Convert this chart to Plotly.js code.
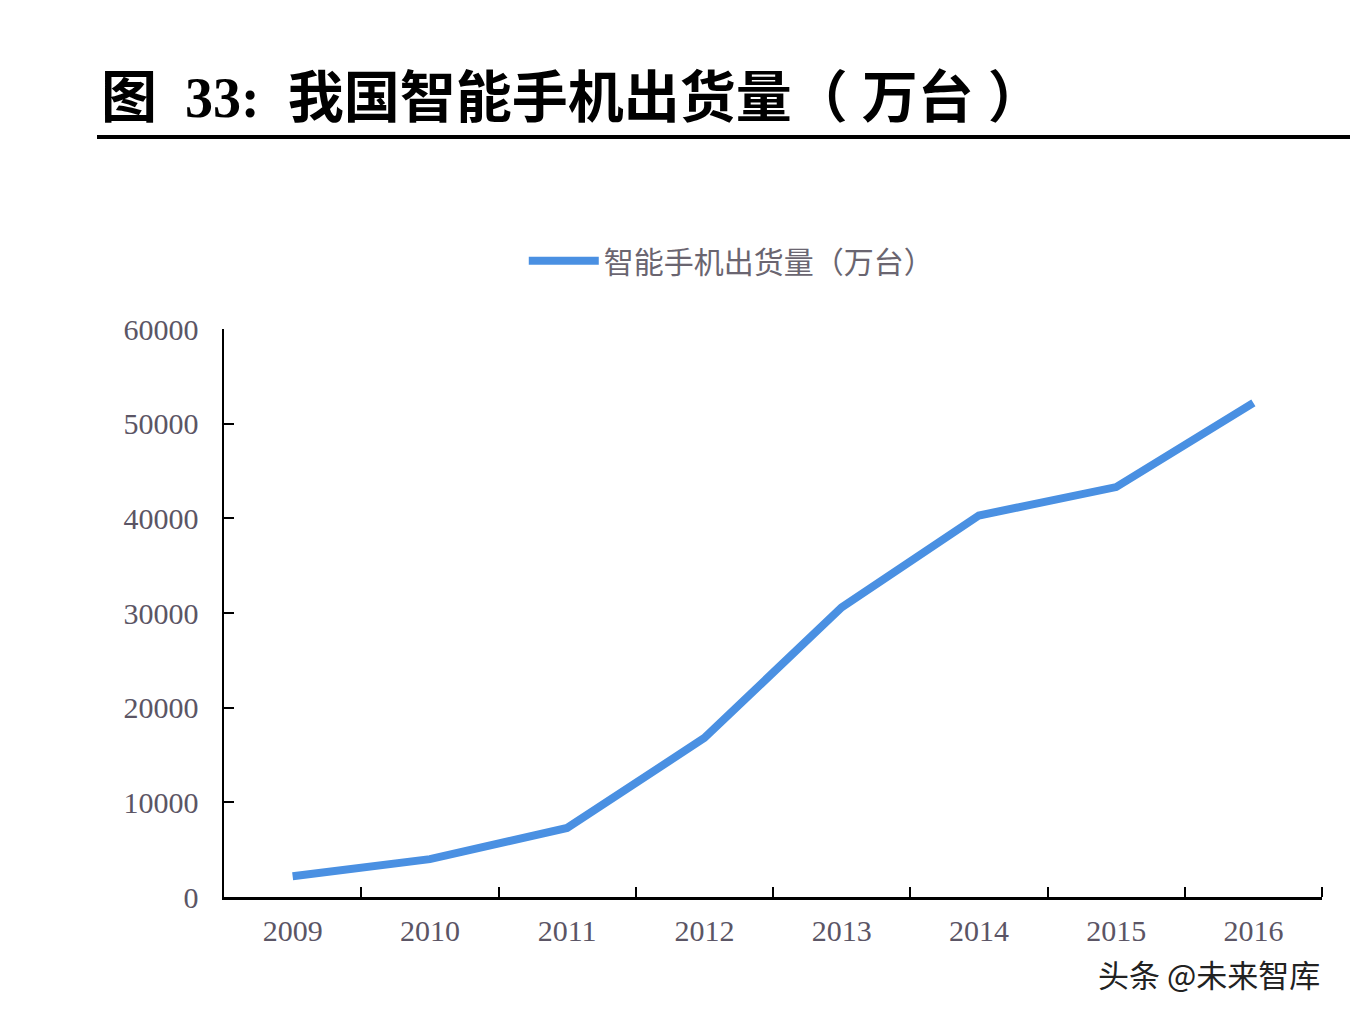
<!DOCTYPE html>
<html>
<head>
<meta charset="utf-8">
<script src="https://cdn.plot.ly/plotly-3.0.1.min.js"></script>
<style>
  body { margin: 0; background: #fff; }
  #chart { width: 1350px; height: 1012px; }
</style>
</head>
<body>
<div id="chart"></div>
<script>
// Data (万台)
const years = ['2009', '2010', '2011', '2012', '2013', '2014', '2015', '2016'];
const shipments = [2200, 4000, 7300, 16800, 30600, 40300, 43300, 52200];
const yTicks = [0, 10000, 20000, 30000, 40000, 50000, 60000];
const seriesName = '智能手机出货量（万台）';

const labelFont = { family: 'Liberation Serif, serif', size: 30, color: '#5b5565' };

Plotly.newPlot('chart', [
  {
    x: years,
    y: shipments,
    name: seriesName,
    type: 'scatter',
    mode: 'lines',
    line: { color: '#4a90e2', width: 8 }
  }
], {
  width: 1350,
  height: 1012,
  margin: { l: 224, r: 28, t: 329, b: 115 },
  paper_bgcolor: '#ffffff',
  plot_bgcolor: '#ffffff',
  title: {
    text: '<b>图&nbsp;&nbsp;33:&nbsp;&nbsp;我国智能手机出货量（ 万台 ）</b>',
    font: { family: 'Liberation Serif, Noto Sans CJK SC, serif', size: 56, color: '#000' },
    xref: 'container', yref: 'container',
    x: 101 / 1350, xanchor: 'left',
    y: 1 - 97 / 1012, yanchor: 'middle'
  },
  showlegend: true,
  legend: {
    orientation: 'h',
    x: 0.462, xanchor: 'center',
    y: 1.12, yanchor: 'middle',
    itemwidth: 70,
    font: { family: 'Noto Sans CJK SC, sans-serif', size: 30, color: '#6a6570' }
  },
  xaxis: {
    type: 'category',
    range: [-0.5, 7.5],
    showline: true,
    linecolor: '#000',
    linewidth: 2.5,
    ticks: 'inside',
    tickson: 'boundaries',
    ticklen: 10,
    tickwidth: 2,
    tickcolor: '#000',
    showgrid: false,
    zeroline: false,
    tickfont: labelFont,
    ticklabelstandoff: 5,
    fixedrange: true
  },
  yaxis: {
    range: [0, 60000],
    tickvals: yTicks,
    ticktext: yTicks.map(String),
    showline: true,
    linecolor: '#000',
    linewidth: 2.5,
    ticks: 'inside',
    ticklen: 10,
    tickwidth: 2,
    tickcolor: '#000',
    showgrid: false,
    zeroline: false,
    tickfont: labelFont,
    ticklabelstandoff: 17,
    fixedrange: true
  },
  shapes: [
    // rule under the figure title
    {
      type: 'line', xref: 'paper', yref: 'paper',
      x0: (97 - 224) / 1098, x1: (1350 - 224) / 1098,
      y0: (897 - 137) / 568, y1: (897 - 137) / 568,
      line: { color: '#000', width: 4 }
    },
    // closing tick at the right end of the x axis
    {
      type: 'line', xref: 'paper', yref: 'paper',
      x0: 1, x1: 1, y0: 0, y1: 10 / 568,
      line: { color: '#000', width: 2 }
    }
  ],
  annotations: [
    {
      text: '头条 @未来智库',
      xref: 'paper', yref: 'paper',
      x: 1.0, xanchor: 'right',
      y: (897 - 973) / 568, yanchor: 'middle',
      showarrow: false,
      font: { family: 'Noto Sans CJK SC, sans-serif', size: 31, color: '#222' }
    }
  ]
}, { displayModeBar: false, staticPlot: true });
</script>
</body>
</html>
